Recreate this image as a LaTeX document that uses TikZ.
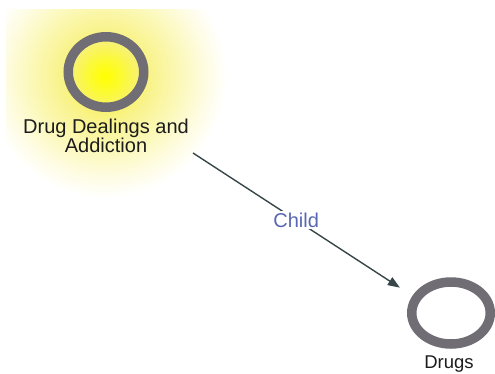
\documentclass[tikz,border=0pt]{standalone}
\usepackage{fontspec}
\setmainfont{Liberation Sans}
\usetikzlibrary{shapes.geometric,arrows.meta}
\definecolor{ringgray}{RGB}{112,110,116}
\definecolor{txt}{RGB}{28,28,28}
\definecolor{arrowc}{RGB}{55,70,72}
\definecolor{childc}{RGB}{88,104,178}
\definecolor{gA}{RGB}{255,255,0}
\definecolor{gB}{RGB}{252,250,50}
\definecolor{gC}{RGB}{248,242,110}
\definecolor{gD}{RGB}{249,243,140}
\definecolor{gE}{RGB}{251,248,182}
\definecolor{gF}{RGB}{254,252,225}
\definecolor{gW}{RGB}{255,255,255}
\pgfdeclareradialshading{glowshade}{\pgfpoint{0bp}{0bp}}{color(0bp)=(gA); color(3bp)=(gB); color(6bp)=(gC); color(8.5bp)=(gD); color(13.5bp)=(gE); color(18.5bp)=(gF); color(22.5bp)=(gW); color(50bp)=(gW)}
\begin{document}
\begin{tikzpicture}[x=1pt,y=-1pt,
  ring/.style={ellipse, draw=ringgray, line width=9.5pt, inner sep=0pt},
  lbl/.style={font=\fontsize{20}{19}\selectfont, text=txt, inner sep=0pt, align=center},
  conn/.style={draw=arrowc, line width=1.4pt, -{Triangle[length=12pt,width=9pt]}, shorten >=15pt},
  childlbl/.style={font=\fontsize{20}{22}\selectfont, text=childc, fill=white, inner sep=2pt}]
\useasboundingbox[fill=white] (0,0) rectangle (495,373);
\begin{scope}
  \clip (6,9) rectangle (250,205);
  \shade[shading=glowshade] (105,76) circle (135pt);
\end{scope}
\node[ring, minimum width=75.5pt, minimum height=70.5pt] (a) at (106,72) {};
\node[ring, minimum width=78.5pt, minimum height=62pt] (b) at (451,313) {};
\node[lbl, anchor=north] (al) at (106,118.5) {Drug Dealings and\\Addiction};
\node[lbl, font=\fontsize{18.5}{20}\selectfont, anchor=base] (bl) at (449,368) {Drugs};
\coordinate (s) at (193,153);
\draw[conn] (s) -- node[childlbl, pos=0.47] (c) {Child} (b.156);
\end{tikzpicture}
\end{document}
